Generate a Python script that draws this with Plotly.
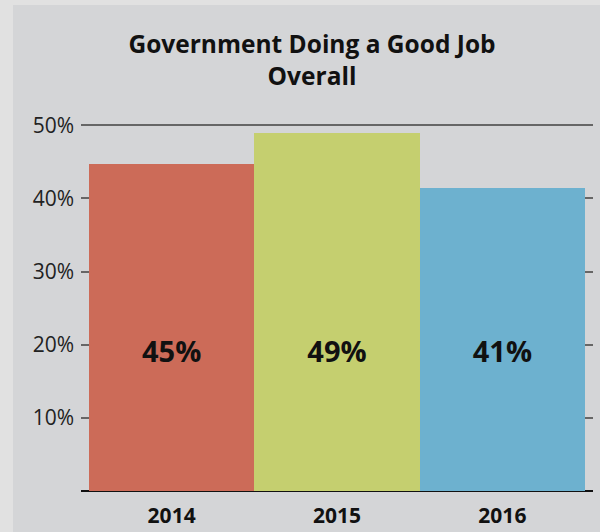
import plotly.graph_objects as go

years = ["2014", "2015", "2016"]
values = [44.7, 49.0, 41.4]
labels = ["45%", "49%", "41%"]
colors = ["#cc6b58", "#c5cf6f", "#6db1cf"]
ytick_vals = [10, 20, 30, 40, 50]
ytick_text = ["10%", "20%", "30%", "40%", "50%"]
label_y = 18.6

FONT = "Open Sans"

fig = go.Figure()
fig.add_trace(go.Bar(
    x=years, y=values, marker=dict(color=colors, line=dict(width=0)),
    hoverinfo="skip", showlegend=False,
))
fig.add_trace(go.Scatter(
    x=years, y=[label_y] * len(years), text=labels, mode="text",
    textposition="middle center",
    textfont=dict(family=FONT, size=29, color="#111111"),
    texttemplate="<b>%{text}</b>",
    hoverinfo="skip", showlegend=False,
))

# background panel
fig.add_shape(type="rect", xref="paper", yref="paper",
              x0=-0.1328, x1=1.02, y0=-0.12, y1=1.3207,
              fillcolor="#d4d5d7", line=dict(width=0), layer="below")

fig.update_layout(
    width=600, height=532,
    margin=dict(l=81, r=7, t=123, b=41),
    paper_bgcolor="#e1e1e1",
    plot_bgcolor="rgba(0,0,0,0)",
    bargap=0,
    title=dict(text="<b>Government Doing a Good Job<br>Overall</b>",
               x=0.52, xref="container", xanchor="center",
               y=0.901, yref="container", yanchor="top",
               font=dict(family=FONT, size=24.5, color="#111111")),
    xaxis=dict(type="category", range=[-0.548, 2.548], showgrid=False,
               showline=False, ticks="", ticklabelstandoff=10,
               automargin=False,
               tickfont=dict(family=FONT, size=21, color="#111111"),
               tickprefix="<b>", ticksuffix="</b>"),
    yaxis=dict(range=[0, 50.3], tickvals=ytick_vals, ticktext=ytick_text,
               showgrid=True, gridcolor="#666666", gridwidth=2,
               zeroline=True, zerolinecolor="#111111", zerolinewidth=1.5,
               showline=False, ticks="", ticklabelstandoff=6,
               automargin=False,
               tickfont=dict(family=FONT, size=21, color="#222222")),
)

fig.write_html("out.html", config={"displayModeBar": False},
               post_script="document.body.style.margin='0';document.body.style.overflow='hidden';")
